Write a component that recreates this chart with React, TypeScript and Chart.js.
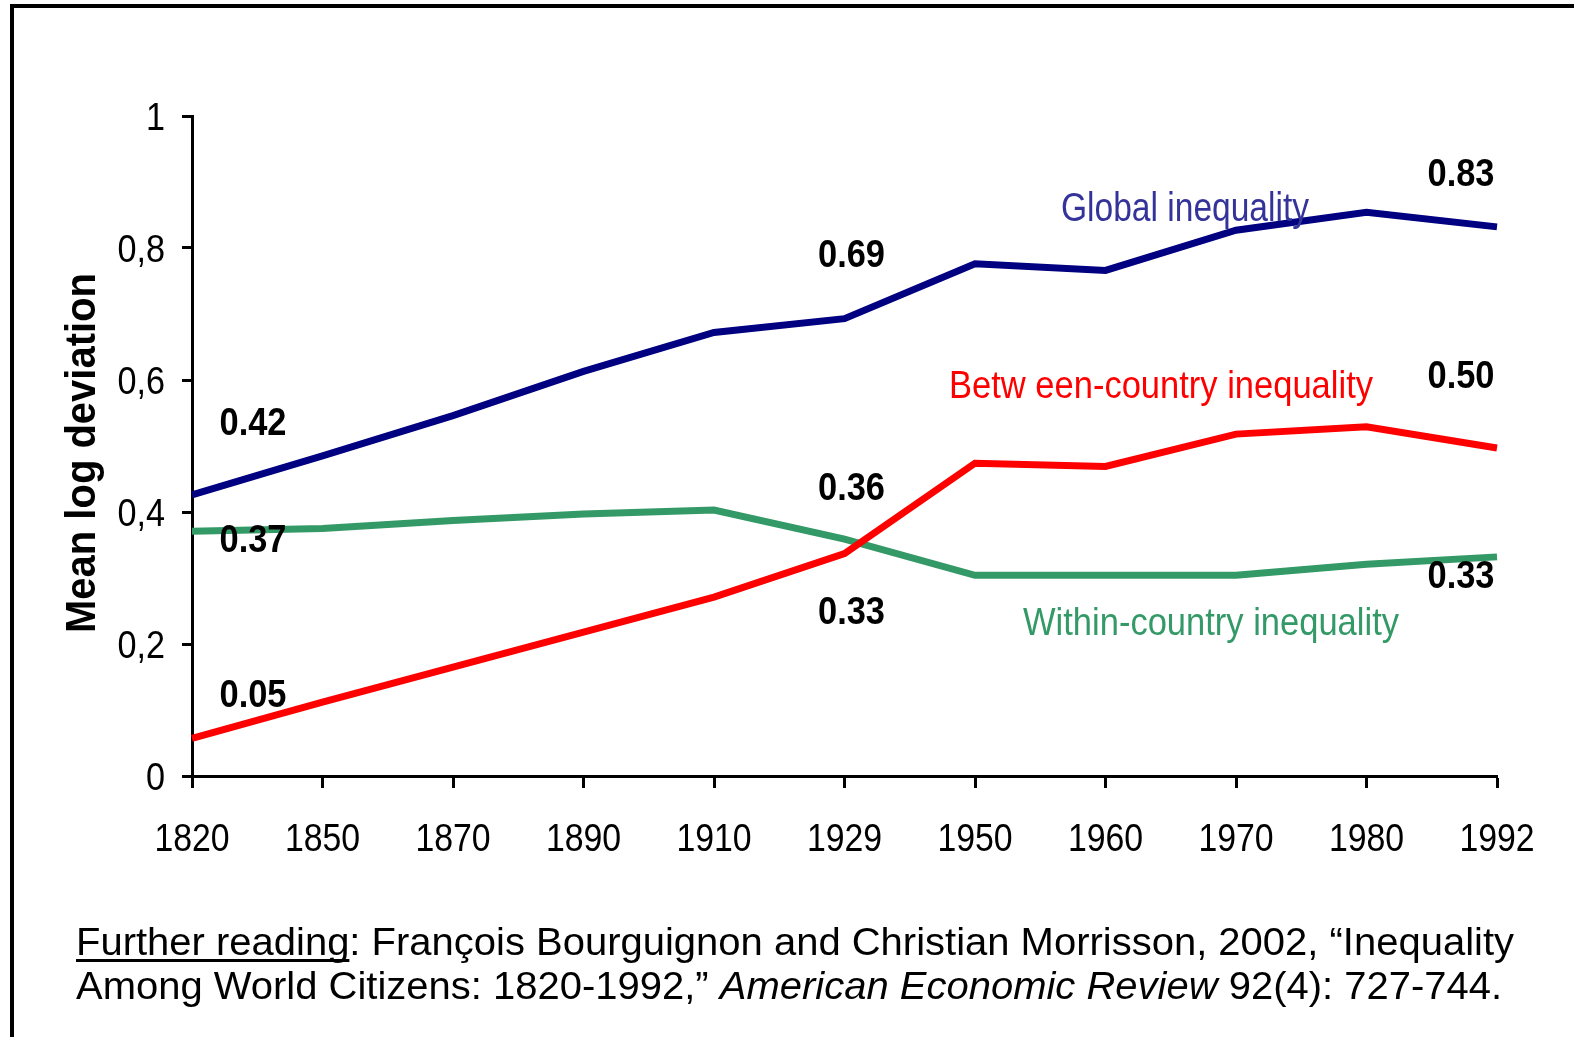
import React, { useEffect, useRef } from "react";
import { Chart, registerables } from "chart.js";

Chart.register(...registerables);

// ---------- data ----------
const years = ["1820", "1850", "1870", "1890", "1910", "1929", "1950", "1960", "1970", "1980", "1992"];
const globalIneq = [0.426, 0.485, 0.546, 0.613, 0.672, 0.693, 0.776, 0.766, 0.827, 0.854, 0.832];
const betweenIneq = [0.057, 0.112, 0.165, 0.218, 0.271, 0.337, 0.474, 0.469, 0.518, 0.529, 0.497];
const withinIneq = [0.371, 0.375, 0.387, 0.397, 0.403, 0.359, 0.304, 0.304, 0.304, 0.321, 0.332];
const yTickValues = [0, 0.2, 0.4, 0.6, 0.8, 1];
const yTickLabels = ["0", "0,2", "0,4", "0,6", "0,8", "1"];
const valueLabelTexts = ["0.42", "0.37", "0.05", "0.69", "0.36", "0.33", "0.83", "0.50", "0.33"];
const seriesNames = ["Global inequality", "Betw een-country inequality", "Within-country inequality"];
const yTitle = "Mean log deviation";

// ---------- annotation placement (category index + pixel offset, value-space baseline) ----------
const valueLabelPlacement = [
  { i: 0, dx: 61, v: 0.517 },
  { i: 0, dx: 61, v: 0.339 },
  { i: 0, dx: 61, v: 0.1045 },
  { i: 5, dx: 7, v: 0.771 },
  { i: 5, dx: 7, v: 0.418 },
  { i: 5, dx: 7, v: 0.23 },
  { i: 10, dx: -36, v: 0.894 },
  { i: 10, dx: -36, v: 0.588 },
  { i: 10, dx: -36, v: 0.285 },
];
const seriesLabelPlacement = [
  { x: 1061, y: 221, w: 248, size: 40, color: "#333399" },
  { x: 949, y: 398, w: 424, size: 39, color: "#FF0000" },
  { x: 1023, y: 635, w: 376, size: 39, color: "#339966" },
];

const FONT = "'Liberation Sans', Arial, Helvetica, sans-serif";

function drawScaled(
  ctx: CanvasRenderingContext2D,
  text: string,
  x: number,
  y: number,
  font: string,
  color: string,
  align: "left" | "center" | "right",
  sx: number,
  fitWidth?: number
) {
  ctx.save();
  ctx.font = font;
  ctx.fillStyle = color;
  ctx.textBaseline = "alphabetic";
  ctx.textAlign = "left";
  const raw = ctx.measureText(text).width;
  const s = fitWidth ? fitWidth / raw : sx;
  const w = raw * s;
  const left = align === "center" ? x - w / 2 : align === "right" ? x - w : x;
  ctx.translate(left, y);
  ctx.scale(s, 1);
  ctx.fillText(text, 0, 0);
  ctx.restore();
}

const textPlugin = {
  id: "textPlugin",
  afterDraw(chart: any) {
    const ctx: CanvasRenderingContext2D = chart.ctx;
    const xs = chart.scales.x;
    const ys = chart.scales.y;

    // frame lines (left & top)
    ctx.save();
    ctx.fillStyle = "#000";
    ctx.fillRect(10, 4, 4, 1040);
    ctx.fillRect(10, 4, 1570, 4);
    ctx.restore();

    // x tick labels
    years.forEach((yr, i) => {
      drawScaled(ctx, yr, xs.getPixelForValue(i), 851, `38px ${FONT}`, "#000", "center", 0.89);
    });
    // y tick labels
    yTickValues.forEach((v, i) => {
      drawScaled(ctx, yTickLabels[i], 165, ys.getPixelForValue(v) + 13.6, `38px ${FONT}`, "#000", "right", 0.9);
    });

    // y axis title
    ctx.save();
    ctx.translate(95, 453);
    ctx.rotate(-Math.PI / 2);
    drawScaled(ctx, yTitle, 0, 0, `bold 43px ${FONT}`, "#000", "center", 1, 360);
    ctx.restore();

    // value labels
    valueLabelPlacement.forEach((p, k) => {
      drawScaled(
        ctx,
        valueLabelTexts[k],
        xs.getPixelForValue(p.i) + p.dx,
        ys.getPixelForValue(p.v),
        `bold 39px ${FONT}`,
        "#000",
        "center",
        1,
        67
      );
    });

    // series labels
    seriesLabelPlacement.forEach((p, k) => {
      drawScaled(ctx, seriesNames[k], p.x, p.y, `${p.size}px ${FONT}`, p.color, "left", 1, p.w);
    });

    // footnote
    const fsize = 38;
    const reg = `${fsize}px ${FONT}`;
    const ita = `italic ${fsize}px ${FONT}`;
    const line1 = [
      { t: "Further reading", f: reg, u: true },
      { t: ": François Bourguignon and Christian Morrisson, 2002, \u201CInequality", f: reg, u: false },
    ];
    const line2 = [
      { t: "Among World Citizens: 1820-1992,\u201D ", f: reg, u: false },
      { t: "American Economic Review", f: ita, u: false },
      { t: " 92(4): 727-744.", f: reg, u: false },
    ];
    const measure = (segs: any[]) =>
      segs.reduce((acc, s) => {
        ctx.font = s.f;
        return acc + ctx.measureText(s.t).width;
      }, 0);
    const sx = 1438 / measure(line1);
    const drawLine = (segs: any[], x0: number, base: number) => {
      let x = x0;
      segs.forEach((s) => {
        ctx.save();
        ctx.font = s.f;
        const w = ctx.measureText(s.t).width * sx;
        ctx.translate(x, base);
        ctx.scale(sx, 1);
        ctx.fillStyle = "#000";
        ctx.textAlign = "left";
        ctx.textBaseline = "alphabetic";
        ctx.fillText(s.t, 0, 0);
        ctx.restore();
        if (s.u) {
          ctx.fillStyle = "#000";
          ctx.fillRect(x, base + 4, w, 3);
        }
        x += w;
      });
    };
    drawLine(line1, 76, 955);
    drawLine(line2, 76, 999);
  },
};

export default function App() {
  const ref = useRef<HTMLCanvasElement | null>(null);
  useEffect(() => {
    if (!ref.current) return;
    const axisGrid = (len: number) => ({
      drawOnChartArea: false,
      drawTicks: true,
      tickLength: len,
      tickWidth: 3,
      tickColor: "#000",
    });
    const chart = new Chart(ref.current, {
      type: "line",
      data: {
        labels: years,
        datasets: [
          { label: seriesNames[1], data: betweenIneq, borderColor: "#FF0000", borderWidth: 7 },
          { label: seriesNames[2], data: withinIneq, borderColor: "#339966", borderWidth: 7 },
          { label: seriesNames[0], data: globalIneq, borderColor: "#000080", borderWidth: 7 },
        ].map((d) => ({ ...d, pointRadius: 0, tension: 0, fill: false, borderJoinStyle: "miter" as const })),
      },
      options: {
        animation: false,
        responsive: false,
        devicePixelRatio: 1,
        layout: { padding: { top: 116, right: 77, bottom: 0, left: 0 } },
        plugins: { legend: { display: false }, tooltip: { enabled: false }, title: { display: false } },
        scales: {
          x: {
            type: "category",
            offset: false,
            grid: axisGrid(12),
            border: { display: true, color: "#000", width: 3 },
            ticks: { display: false },
            afterFit: (s: any) => {
              s.height = 261;
            },
          },
          y: {
            min: 0,
            max: 1,
            ticks: { display: false, stepSize: 0.2 },
            grid: axisGrid(10),
            border: { display: true, color: "#000", width: 3 },
            afterFit: (s: any) => {
              s.width = 192;
            },
          },
        },
      },
      plugins: [textPlugin],
    });
    return () => chart.destroy();
  }, []);
  return (
    <div style={{ position: "fixed", left: 0, top: 0, width: 1574, height: 1037, background: "#fff" }}>
      <canvas ref={ref} width={1574} height={1037} style={{ width: 1574, height: 1037, display: "block" }} />
    </div>
  );
}
